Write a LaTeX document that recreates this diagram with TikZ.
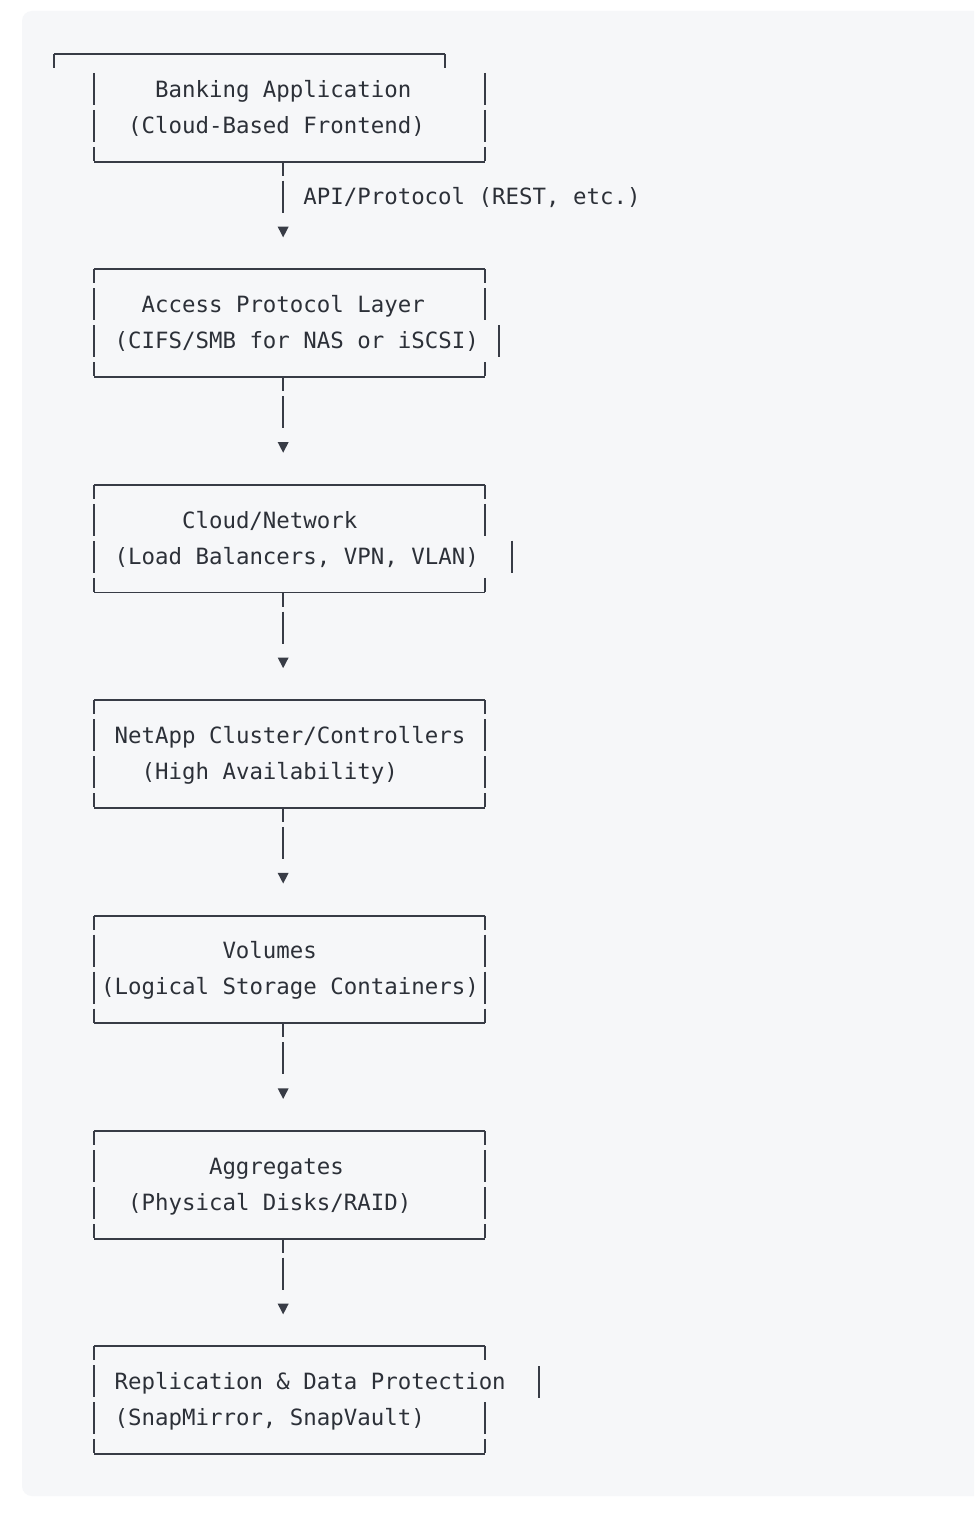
\documentclass[tikz,border=0pt]{standalone}
\usepackage{fontspec}
\newfontfamily\monofam{DejaVu Sans Mono}
\definecolor{panelbg}{RGB}{246,247,249}
\definecolor{ink}{RGB}{44,48,56}
\definecolor{linec}{RGB}{56,60,70}
\newcommand\colL[1]{(47.26+13.48*(#1))}
\newcommand\colC[1]{(54+13.48*(#1))}
\newcommand\rowC[1]{(54+35.9*(#1))}
\begin{document}
\begin{tikzpicture}[x=1pt,y=-1pt,
  border/.style={draw=linec, line width=1.9pt},
  hline/.style={border, line cap=square},
  vside/.style={border, dash pattern=on 14pt off 5pt on 32pt off 5pt on 32pt off 5pt on 14pt off 30pt},
  conn/.style={border, dash pattern=on 14pt off 5pt on 32pt off 60pt},
  boxarea/.style={rectangle, draw=none, inner sep=0pt, outer sep=0pt, minimum width=390.92pt, minimum height=107.7pt},
  txt/.style={anchor=base west, inner sep=0pt, outer sep=0pt, text=ink, font=\monofam\fontsize{22.4}{27}\selectfont},
  tip/.style={rectangle, draw=none, inner sep=0pt, outer sep=0pt, minimum width=11pt, minimum height=10.6pt,
    path picture={\fill[linec] (path picture bounding box.north west) -- (path picture bounding box.north east) -- (path picture bounding box.south) -- cycle;}}
]
\useasboundingbox (0,0) rectangle (974,1522);
\clip (0,0) rectangle (974,1522);
\fill[white] (0,0) rectangle (974,1522);
\fill[panelbg, rounded corners=10pt] (22,11) rectangle (1010,1496);

% box areas
\foreach \k in {0,...,6}{
  \node[boxarea] (b\k) at ({\colC{17.5}},{\rowC{6*\k+1.5}}) {};
}
% bottom borders
\foreach \k in {0,...,6}{
  \draw[hline] (b\k.south west) -- (b\k.south east);
}
% top borders and left sides of boxes 1-6
\foreach \k in {1,...,6}{
  \draw[hline] (b\k.north west) -- (b\k.north east);
  \draw[vside] (b\k.north west) -- (b\k.south west);
}
% right sides without displaced bars
\foreach \k in {3,4,5}{
  \draw[vside] (b\k.north east) -- (b\k.south east);
}
% box 0: shifted top line
\draw[hline] ([xshift=-40.44pt]b0.north west) -- ([xshift=-40.44pt]b0.north east);
\draw[border] ([xshift=-40.44pt]b0.north west) -- ++(0,14);
\draw[border] ([xshift=-40.44pt]b0.north east) -- ++(0,14);
\draw[border, dash pattern=on 32pt off 5pt on 32pt off 5pt on 14pt off 30pt] ([yshift=-19pt]b0.north west) -- (b0.south west);
\draw[border, dash pattern=on 32pt off 5pt on 32pt off 5pt on 14pt off 30pt] ([yshift=-19pt]b0.north east) -- (b0.south east);
% box 1 and 2: second row bar displaced
\draw[border, dash pattern=on 14pt off 5pt on 32pt off 42pt on 14pt off 30pt] (b1.north east) -- (b1.south east);
\draw[border] ({\colC{33}},{\rowC{8}-16}) -- ++(0,32);
\draw[border, dash pattern=on 14pt off 5pt on 32pt off 42pt on 14pt off 30pt] (b2.north east) -- (b2.south east);
\draw[border] ({\colC{34}},{\rowC{14}-16}) -- ++(0,32);
% box 6: first row bar displaced
\draw[border, dash pattern=on 14pt off 42pt on 32pt off 5pt on 14pt off 30pt] (b6.north east) -- (b6.south east);
\draw[border] ({\colC{36}},{\rowC{37}-16}) -- ++(0,32);

% connectors
\foreach \k in {0,...,5}{
  \node[tip] (a\k) at ({\colC{17}},{\rowC{6*\k+5}-1.5}) {};
  \draw[conn] (b\k.south -| a\k) -- (a\k.north);
}

% texts
\node[txt] (t0a) at ({\colL{8}},{\rowC{1}+7.4}) {Banking Application};
\node[txt] (t0b) at ({\colL{6}},{\rowC{2}+7.4}) {(Cloud-Based Frontend)};
\node[txt] (lab) at ({\colL{19}},{\rowC{4}+7.4}) {API/Protocol (REST, etc.)};
\node[txt] (t1a) at ({\colL{7}},{\rowC{7}+7.4}) {Access Protocol Layer};
\node[txt] (t1b) at ({\colL{5}},{\rowC{8}+7.4}) {(CIFS/SMB for NAS or iSCSI)};
\node[txt] (t2a) at ({\colL{10}},{\rowC{13}+7.4}) {Cloud/Network};
\node[txt] (t2b) at ({\colL{5}},{\rowC{14}+7.4}) {(Load Balancers, VPN, VLAN)};
\node[txt] (t3a) at ({\colL{5}},{\rowC{19}+7.4}) {NetApp Cluster/Controllers};
\node[txt] (t3b) at ({\colL{7}},{\rowC{20}+7.4}) {(High Availability)};
\node[txt] (t4a) at ({\colL{13}},{\rowC{25}+7.4}) {Volumes};
\node[txt] (t4b) at ({\colL{4}},{\rowC{26}+7.4}) {(Logical Storage Containers)};
\node[txt] (t5a) at ({\colL{12}},{\rowC{31}+7.4}) {Aggregates};
\node[txt] (t5b) at ({\colL{6}},{\rowC{32}+7.4}) {(Physical Disks/RAID)};
\node[txt] (t6a) at ({\colL{5}},{\rowC{37}+7.4}) {Replication \& Data Protection};
\node[txt] (t6b) at ({\colL{5}},{\rowC{38}+7.4}) {(SnapMirror, SnapVault)};
\end{tikzpicture}
\end{document}
